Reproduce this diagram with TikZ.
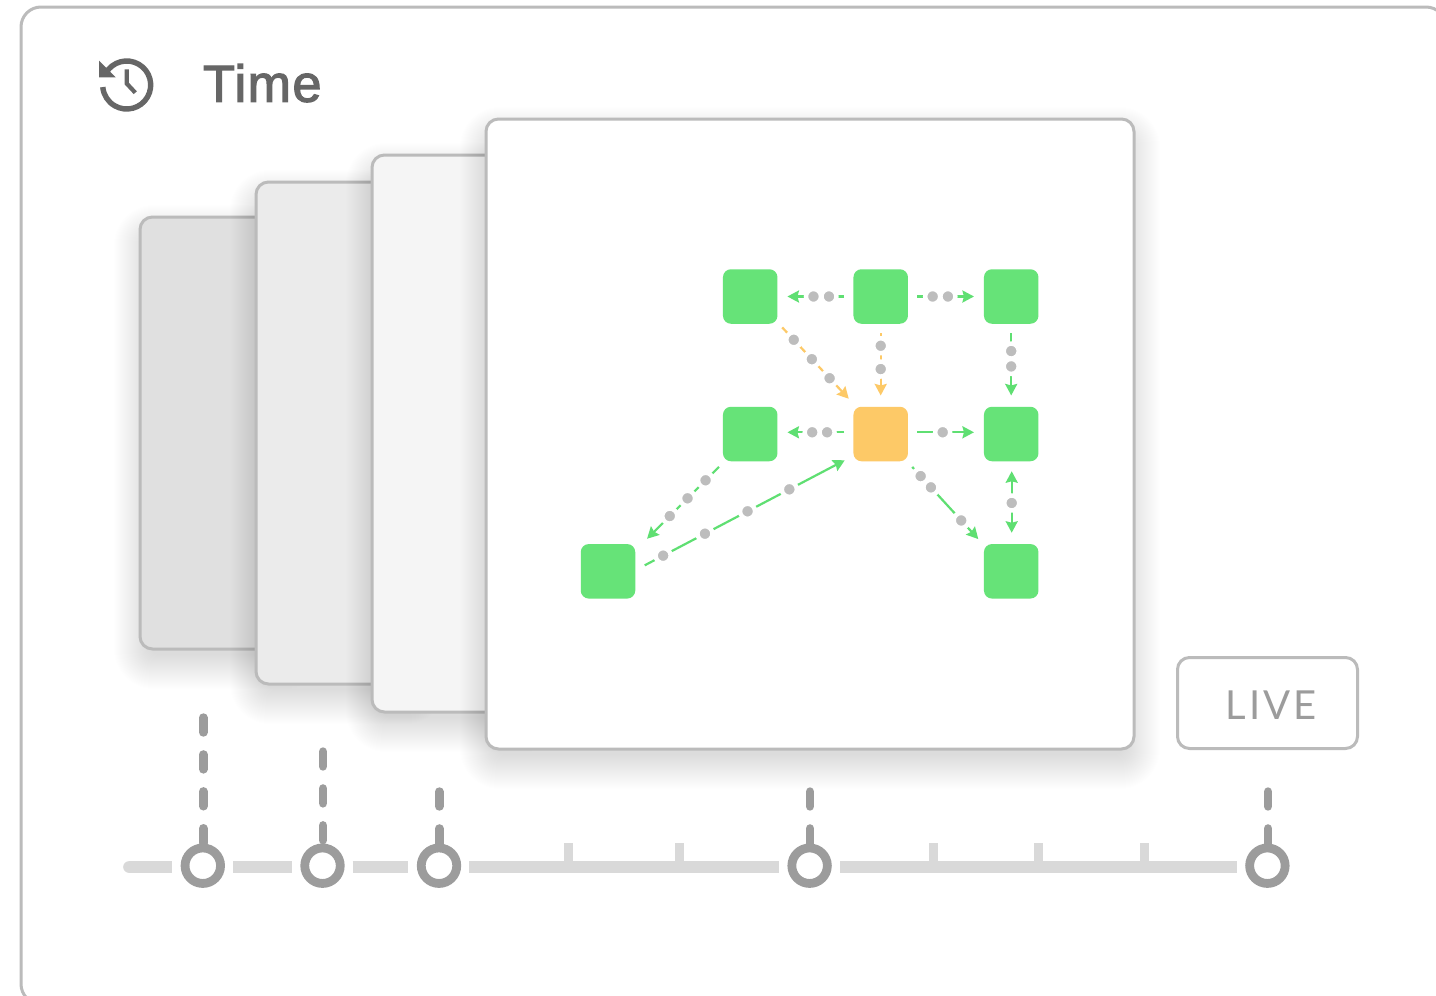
\documentclass[tikz,border=0pt]{standalone}
\usepackage{fontspec}
\setmainfont{Liberation Sans}
\newfontfamily\livefont{Lato}
\usetikzlibrary{arrows.meta}
\definecolor{frameC}{HTML}{BBBBBB}
\definecolor{greenC}{HTML}{66E378}
\definecolor{lineG}{HTML}{5FDF72}
\definecolor{yelC}{HTML}{FDC967}
\definecolor{dotC}{HTML}{BDBDBD}
\definecolor{trackC}{HTML}{D9D9D9}
\definecolor{knobC}{HTML}{9C9C9C}
\definecolor{textC}{HTML}{666666}
\newcommand{\softshadow}[4]{%
  \foreach \d in {-8,-7,...,26}{%
    \fill[black,opacity=.004,rounded corners={(14+max(\d,-2))*1pt}] (#1-\d,#2+14-\d) rectangle (#3+\d,#4+14+\d);}}
\tikzset{
  x=1pt,y=-1pt,
  card/.style={draw=frameC,line width=3pt,rounded corners=12.5pt,inner sep=0pt,outer sep=0pt},
  sq/.style={fill=greenC,rounded corners=8pt,minimum size=54.5pt,inner sep=0pt,outer sep=0pt},
  sqy/.style={sq,fill=yelC},
  link/.style={line width=2.2pt,draw=lineG,-{Stealth[length=11.5pt,width=12pt,inset=1.5pt]},shorten <=9.3pt,shorten >=10pt},
  ylink/.style={link,draw=yelC},
  dotn/.style={circle,fill=dotC,draw=white,line width=4.4pt,minimum size=15pt,inner sep=0pt,outer sep=0pt},
  track/.style={draw=trackC,line width=11.7pt},
  tick/.style={draw=trackC,line width=9pt},
  knob/.style={circle,draw=knobC,fill=white,line width=8.8pt,minimum size=35.5pt,inner sep=0pt,outer sep=4.4pt},
  stem/.style={draw=knobC,line width=8.7pt,line cap=round,dash pattern=on 14.7pt off 22.2pt},
}
\begin{document}
\begin{tikzpicture}
\path[use as bounding box,clip] (0,0) rectangle (1436,996);
\fill[white] (0,0) rectangle (1436,996);
\draw[frameC,line width=3pt,rounded corners=20pt] (21,7) rectangle (1446,1004);

% title
\draw[textC,line width=5.4pt] (126.7,85) ++(-150:24) arc[start angle=-150,end angle=175,radius=24];
\fill[textC] (99,60.7) -- (115.7,77.3) -- (99,77.3) -- cycle;
\draw[textC,line width=4.2pt] (126.7,69.3) -- (126.7,83.5) -- (135.3,92.7);
\node[anchor=base west,inner sep=0pt,text=textC,font=\fontsize{52}{60}\selectfont\addfontfeature{FakeBold=2.4,LetterSpace=3}] (title) at (203,101.7) {Time};

% stacked cards
\softshadow{140}{217}{300}{649}
\node[card,fill=black!12,minimum width=160pt,minimum height=432pt] (c1) at (220,433) {};
\softshadow{256}{182}{420}{684}
\node[card,fill=black!8,minimum width=164pt,minimum height=502pt] (c2) at (338,433) {};
\softshadow{372}{155}{540}{712}
\node[card,fill=black!4,minimum width=168pt,minimum height=557pt] (c3) at (456,433.5) {};
\softshadow{486}{119}{1134}{749}
\node[card,fill=white,minimum width=648pt,minimum height=630pt] (c4) at (810,434) {};

% graph
\node[sq] (tl) at (750.2,296.5) {};
\node[sq] (tm) at (880.7,296.5) {};
\node[sq] (tr) at (1011.2,296.5) {};
\node[sq] (ml) at (750.2,434) {};
\node[sqy] (mc) at (880.7,434) {};
\node[sq] (mr) at (1011.2,434) {};
\node[sq] (bl) at (608,571.3) {};
\node[sq] (br) at (1011.2,571.3) {};

\draw[link] (tm.west) -- (tl.east) node[dotn,pos=.322]{} node[dotn,pos=.526]{};
\draw[link] (tm.east) -- (tr.west) node[dotn,pos=.325]{} node[dotn,pos=.526]{};
\draw[link,shorten >=11.3pt] (tr.south) -- (mr.north) node[dotn,pos=.329]{} node[dotn,pos=.514]{};
\draw[ylink,shorten >=11.3pt] (tm.south) -- (mc.north) node[dotn,pos=.265]{} node[dotn,pos=.546]{};
\draw[ylink,shorten <=0pt,shorten >=0pt] ([xshift=4.8pt,yshift=-3.7pt]tl.south east) -- ([xshift=-4.7pt,yshift=8pt]mc.north west)
   node[dotn,pos=.173]{} node[dotn,pos=.445]{} node[dotn,pos=.712]{};
\draw[link] ([yshift=1.7pt]mc.west) -- ([yshift=1.7pt]ml.east) node[dotn,pos=.347]{} node[dotn,pos=.543]{};
\draw[link] ([yshift=1.7pt]mc.east) -- ([yshift=1.7pt]mr.west) node[dotn,pos=.457]{};
\draw[link,{Stealth[length=11.5pt,width=12pt,inset=1.5pt]}-{Stealth[length=11.5pt,width=12pt,inset=1.5pt]},shorten >=11.3pt,shorten <=10pt] ([xshift=.5pt]mr.south) -- ([xshift=.5pt]br.north) node[dotn,pos=.504]{};
\draw[link,shorten <=0pt,shorten >=0pt] ([xshift=4.3pt,yshift=-5.7pt]mc.south east) -- ([xshift=-5.7pt,yshift=5pt]br.north west)
   node[dotn,pos=.127]{} node[dotn,pos=.283]{} node[dotn,pos=.742]{};
\draw[link,shorten <=0pt,shorten >=0pt] ([xshift=-4pt,yshift=-5.7pt]ml.south west) -- ([xshift=11.8pt,yshift=5.3pt]bl.north east)
   node[dotn,pos=.186]{} node[dotn,pos=.437]{} node[dotn,pos=.684]{};
\draw[link,shorten <=0pt,shorten >=0pt] ([xshift=9.5pt,yshift=6pt]bl.east) -- ([xshift=-8.7pt,yshift=1pt]mc.south west)
   node[dotn,pos=.092]{} node[dotn,pos=.301]{} node[dotn,pos=.514]{} node[dotn,pos=.723]{};

% LIVE button
\node[draw=frameC,line width=3pt,rounded corners=12pt,minimum width=180pt,minimum height=91pt,inner sep=0pt,outer sep=0pt] (live) at (1267.5,703) {};
\node[anchor=base,inner sep=0pt,text=knobC,font=\livefont\fontsize{40}{48}\selectfont\addfontfeature{LetterSpace=7.5}] (livet) at (1271,719.3) {LIVE};

% timeline
\coordinate (t0) at (129,867);
\coordinate (t1a) at (171.7,867);
\coordinate (t1b) at (233.3,867);
\coordinate (t2a) at (291.7,867);
\coordinate (t2b) at (352.7,867);
\coordinate (t3a) at (408.3,867);
\coordinate (t3b) at (469,867);
\coordinate (t4a) at (778.5,867);
\coordinate (t4b) at (840,867);
\coordinate (t5a) at (1237,867);
\draw[track] (t0) -- (t1a);
\fill[trackC] (129,861.15) arc[start angle=-90,end angle=-270,radius=5.85] -- cycle;
\draw[track] (t1b) -- (t2a);
\draw[track] (t2b) -- (t3a);
\draw[track] (t3b) -- (t4a);
\draw[track] (t4b) -- (t5a);
\foreach \x in {568.8,679.3,933.3,1038.5,1144.5}{\draw[tick] (\x,843) -- (\x,862);}

\node[knob] (k1) at (202.8,865.7) {};
\node[knob] (k2) at (322.5,865.7) {};
\node[knob] (k3) at (439,865.7) {};
\node[knob] (k4) at (809.6,865.7) {};
\node[knob] (k5) at (1267.4,865.7) {};
\coordinate (s1) at (203.3,717.65);
\coordinate (s2) at (323,751.65);
\coordinate (s3) at (439.3,791.65);
\coordinate (s4) at (810,791.65);
\coordinate (s5) at (1268,791.65);
\draw[stem] (s1) -- (s1 |- k1.north);
\draw[stem] (s2) -- (s2 |- k2.north);
\draw[stem] (s3) -- (s3 |- k3.north);
\draw[stem] (s4) -- (s4 |- k4.north);
\draw[stem] (s5) -- (s5 |- k5.north);
\end{tikzpicture}
\end{document}
